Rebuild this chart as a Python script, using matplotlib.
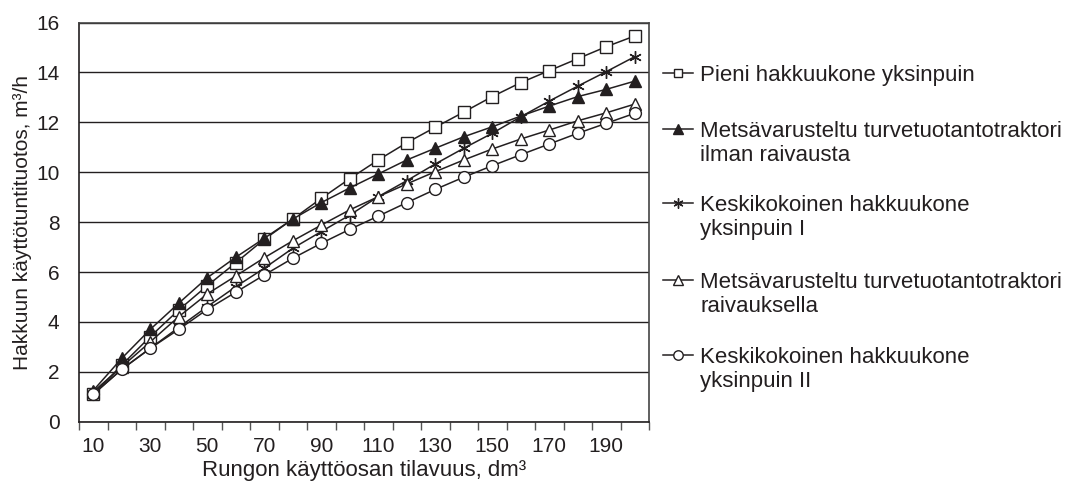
import matplotlib
matplotlib.use("Agg")
import matplotlib.pyplot as plt
from matplotlib.lines import Line2D

plt.rcParams['font.family'] = ['Liberation Sans', 'DejaVu Sans']

volumes = [10, 20, 30, 40, 50, 60, 70, 80, 90, 100, 110, 120, 130, 140, 150, 160, 170, 180, 190, 200]
tick_labels = ['10', '', '30', '', '50', '', '70', '', '90', '', '110', '', '130', '', '150', '', '170', '', '190', '']

pieni = [1.1, 2.27, 3.41, 4.48, 5.45, 6.37, 7.31, 8.12, 8.95, 9.74, 10.49, 11.18, 11.8, 12.41, 13.03, 13.59, 14.07, 14.55, 15.03, 15.46]
mets_ilman = [1.25, 2.54, 3.7, 4.75, 5.77, 6.59, 7.35, 8.12, 8.78, 9.37, 9.93, 10.49, 10.96, 11.42, 11.82, 12.25, 12.65, 13.03, 13.32, 13.65]
keski_I = [1.1, 2.1, 2.94, 3.78, 4.61, 5.41, 6.15, 6.95, 7.62, 8.28, 9.02, 9.66, 10.33, 10.96, 11.56, 12.22, 12.85, 13.45, 14.03, 14.63]
mets_raiv = [1.2, 2.2, 3.2, 4.21, 5.12, 5.84, 6.57, 7.25, 7.88, 8.49, 9.02, 9.53, 10.02, 10.49, 10.93, 11.33, 11.69, 12.06, 12.38, 12.73]
keski_II = [1.1, 2.1, 2.94, 3.7, 4.5, 5.19, 5.88, 6.55, 7.15, 7.71, 8.24, 8.78, 9.31, 9.8, 10.26, 10.7, 11.13, 11.56, 11.96, 12.36]

labels = [['Pieni hakkuukone yksinpuin'],
          ['Metsävarusteltu turvetuotantotraktori', 'ilman raivausta'],
          ['Keskikokoinen hakkuukone', 'yksinpuin I'],
          ['Metsävarusteltu turvetuotantotraktori', 'raivauksella'],
          ['Keskikokoinen hakkuukone', 'yksinpuin II']]

INK = '#231f20'
series = [
    (pieni, dict(marker='s', markersize=8, markerfacecolor='white')),
    (mets_ilman, dict(marker='^', markersize=9, markerfacecolor=INK)),
    (keski_I, dict(marker=(6, 2, 0), markersize=9, markerfacecolor=INK)),
    (mets_raiv, dict(marker='^', markersize=9, markerfacecolor='white')),
    (keski_II, dict(marker='o', markersize=8.5, markerfacecolor='white')),
]

fig = plt.figure(figsize=(10.73, 4.84), dpi=100)
ax = fig.add_axes([79/1073, 1-421.7/484, (649-79)/1073, (421.7-22.5)/484])

xs = list(range(len(volumes)))
for vals, st in series:
    ax.plot(xs, vals, color=INK, linewidth=1.1, markeredgecolor=INK,
            markeredgewidth=1.0, zorder=3, clip_on=False, **st)

ax.set_xlim(-0.5, len(volumes) - 0.5)
ax.set_ylim(0, 16)
ax.set_yticks(range(0, 17, 2))
ax.yaxis.grid(True, color=INK, linewidth=1.0)
ax.set_axisbelow(True)

ax.set_xticks(xs)
ax.set_xticklabels(tick_labels)
ax.set_xticks([i - 0.5 for i in range(len(volumes) + 1)], minor=True)
ax.tick_params(axis='x', which='major', length=0, pad=11, labelsize=15, labelcolor=INK)
ax.tick_params(axis='x', which='minor', length=6, width=1.0, color='#555555', direction='out')
ax.tick_params(axis='y', length=0, pad=14, labelsize=15, labelcolor=INK)

for s in ['left', 'bottom']:
    ax.spines[s].set_color(INK)
    ax.spines[s].set_linewidth(1.2)
for s in ['top', 'right']:
    ax.spines[s].set_color('#444444')
    ax.spines[s].set_linewidth(1.2)

ax.set_xlabel('Rungon käyttöosan tilavuus, dm³', fontsize=16, color=INK, labelpad=3)
ax.set_ylabel('Hakkuun käyttötuntituotos, m³/h', fontsize=15, color=INK, labelpad=3)

# manual legend (handle aligned with first line of text)
leg_y = [73, 129, 203, 280, 355]
line_gap = 24
for (vals, st), lab, yy in zip(series, labels, leg_y):
    yf = 1 - yy / 484
    fig.add_artist(Line2D([663/1073, 693/1073], [yf, yf], transform=fig.transFigure,
                          color=INK, linewidth=1.1))
    st2 = dict(st)
    st2['markersize'] = st['markersize'] * 0.8
    fig.add_artist(Line2D([678/1073], [yf], transform=fig.transFigure, color=INK,
                          markeredgecolor=INK, markeredgewidth=1.0, linestyle='none', **st2))
    for k, line in enumerate(lab):
        yb = 1 - (yy + 8 + k * line_gap) / 484
        fig.text(700/1073, yb, line, fontsize=16, color=INK, va='baseline', ha='left')

fig.savefig('out.png', dpi=100)
